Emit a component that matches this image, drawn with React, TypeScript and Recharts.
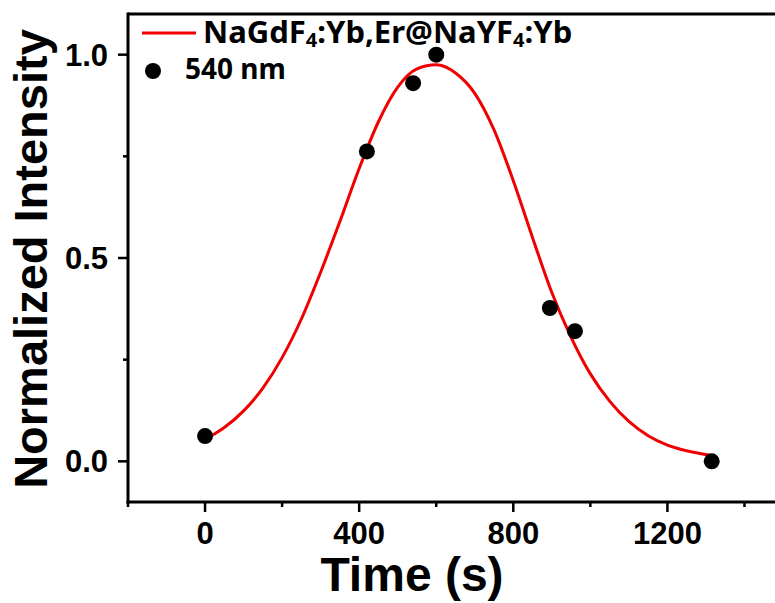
import { ComposedChart, Line, Scatter, XAxis, YAxis, ReferenceLine, Label } from 'recharts';

// fitted curve
const fitTime = [0, 50, 100, 150, 200, 250, 300, 350, 400, 450, 500, 550, 600, 650, 700, 750, 800, 850, 900, 950, 1000, 1050, 1100, 1150, 1200, 1250, 1310];
const fitIntensity = [0.054, 0.083, 0.124, 0.18, 0.255, 0.35, 0.465, 0.59, 0.72, 0.835, 0.92, 0.965, 0.975, 0.955, 0.905, 0.815, 0.69, 0.55, 0.415, 0.305, 0.215, 0.148, 0.098, 0.063, 0.04, 0.026, 0.015];

// measured points, 540 nm
const pointTime = [0, 420, 540, 600, 895, 960, 1315];
const pointIntensity = [0.062, 0.762, 0.93, 1.0, 0.377, 0.32, 0.0];

const xTicks = [-200, 0, 200, 400, 600, 800, 1000, 1200, 1400];
const xLabels = [0, 400, 800, 1200];
const yTicks = [0, 0.25, 0.5, 0.75, 1.0];
const yLabels = [0, 0.5, 1.0];

const fitData = fitTime.map((x, i) => ({ x, y: fitIntensity[i] }));
const pointData = pointTime.map((x, i) => ({ x, y: pointIntensity[i] }));

const AXIS_FONT = '"Liberation Sans", Arial, sans-serif';
const LEGEND_FONT = '"Noto Sans", "Liberation Sans", sans-serif';
const RED = '#f00000';

function XTick(props: any) {
  const { x, y, payload } = props;
  const major = xLabels.includes(payload.value);
  return (
    <g>
      <line x1={x} x2={x} y1={y} y2={y + (major ? 10 : 5)} stroke="#000" strokeWidth={2.5} />
      {major && (
        <text x={x} y={y + 42} textAnchor="middle" fontFamily={AXIS_FONT} fontWeight="bold" fontSize={31} fill="#000">
          {payload.value}
        </text>
      )}
    </g>
  );
}

function YTick(props: any) {
  const { x, y, payload } = props;
  const major = yLabels.includes(payload.value);
  return (
    <g>
      <line x1={x} x2={x - (major ? 10 : 5)} y1={y} y2={y} stroke="#000" strokeWidth={2.5} />
      {major && (
        <text x={x - 20} y={y + 11} textAnchor="end" fontFamily={AXIS_FONT} fontWeight="bold" fontSize={31} fill="#000">
          {payload.value.toFixed(1)}
        </text>
      )}
    </g>
  );
}

const Dot = (props: any) => <circle cx={props.cx} cy={props.cy} r={8} fill="#000" />;

export default function App() {
  return (
    <div style={{ position: 'absolute', left: 0, top: 0, width: 775, height: 603, overflow: 'hidden', background: '#fff' }}>
      <ComposedChart width={800} height={603} margin={{ top: 14, right: 17, bottom: 0, left: 28 }}>
        <XAxis
          type="number"
          dataKey="x"
          domain={[-200, 1500]}
          ticks={xTicks}
          allowDataOverflow
          height={101}
          tickSize={0}
          tickMargin={0}
          tickLine={false}
          tick={<XTick />}
          axisLine={{ stroke: '#000', strokeWidth: 3, strokeLinecap: 'square' }}
        >
          <Label
            content={({ viewBox }: any) => (
              <text x={viewBox.x + 284} y={viewBox.y + 89} textAnchor="middle" fontFamily={AXIS_FONT} fontWeight="bold" fontSize={48} fill="#000">
                Time (s)
              </text>
            )}
          />
        </XAxis>
        <YAxis
          type="number"
          domain={[-0.1, 1.1]}
          ticks={yTicks}
          allowDataOverflow
          width={100}
          tickSize={0}
          tickMargin={0}
          tickLine={false}
          tick={<YTick />}
          axisLine={{ stroke: '#000', strokeWidth: 3, strokeLinecap: 'square' }}
        >
          <Label
            content={({ viewBox }: any) => {
              const cx = viewBox.x + 19;
              const cy = viewBox.y + viewBox.height / 2 + 1;
              return (
                <text x={cx} y={cy} transform={`rotate(-90 ${cx} ${cy})`} textAnchor="middle" fontFamily={AXIS_FONT} fontWeight="bold" fontSize={47} fill="#000">
                  Normalized Intensity
                </text>
              );
            }}
          />
        </YAxis>
        <ReferenceLine y={1.1} stroke="#000" strokeWidth={3} />
        <Scatter data={pointData} dataKey="y" fill="#000" shape={<Dot />} isAnimationActive={false} />
        <Line data={fitData} dataKey="y" type="monotone" stroke={RED} strokeWidth={3} dot={false} activeDot={false} isAnimationActive={false} />
      </ComposedChart>
      <svg width={700} height={90} style={{ position: 'absolute', left: 0, top: 0 }}>
        <line x1={142} x2={196} y1={33} y2={33} stroke={RED} strokeWidth={3} />
        <text x={203} y={43} fontFamily={LEGEND_FONT} fontWeight="bold" fontSize={31} fill="#000">
          NaGdF<tspan fontSize={20} dy={4}>4</tspan>
          <tspan dy={-4}>:Yb,Er@NaYF</tspan>
          <tspan fontSize={20} dy={4}>4</tspan>
          <tspan dy={-4}>:Yb</tspan>
        </text>
        <circle cx={153} cy={71} r={8} fill="#000" />
        <text x={185} y={79} fontFamily={LEGEND_FONT} fontWeight="bold" fontSize={28} fill="#000">
          540 nm
        </text>
      </svg>
    </div>
  );
}
